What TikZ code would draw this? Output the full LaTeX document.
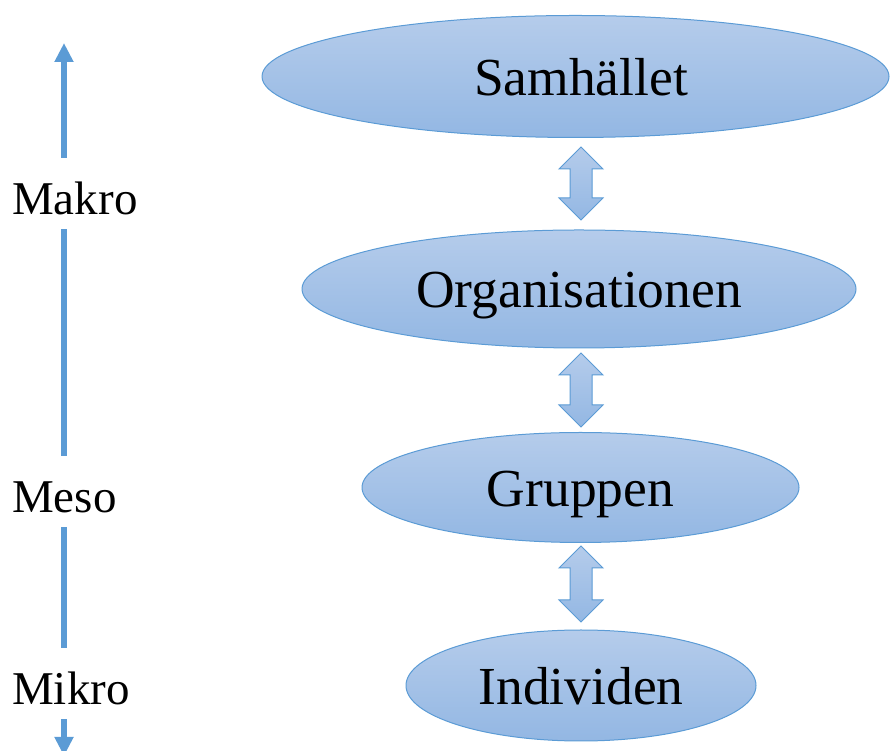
\documentclass[tikz,border=0pt]{standalone}
\usepackage{fontspec}
\setmainfont{Liberation Serif}
\usetikzlibrary{shapes.geometric,arrows.meta,calc}
\definecolor{edgeblue}{HTML}{5B9BD5}
\definecolor{topfill}{HTML}{B5CCEB}
\definecolor{botfill}{HTML}{93B7E3}
\tikzset{
  level/.style={ellipse, draw=edgeblue, line width=1pt, top color=topfill, bottom color=botfill,
    inner sep=0pt, text height=38pt, text depth=0pt, font=\fontsize{53.5}{60}\selectfont},
  dblarr/.style={draw=edgeblue, line width=1pt, top color=topfill, bottom color=botfill, line join=miter},
  axisline/.style={draw=edgeblue, line width=6pt,
    {Triangle[width=18pt,length=19pt]}-{Triangle[width=18pt,length=19pt]}},
  scalelabel/.style={anchor=base west, fill=white, inner xsep=0pt, inner ysep=0pt,
    text height=57pt, text depth=14pt, font=\fontsize{47}{54}\selectfont}
}
% double block arrow: x centre, top tip y, bottom tip y
\newcommand\levelarrow[3]{%
  \path[dblarr] (#1,#2) -- ++(22,-22) -- ++(-11,0) -- (#1+11,#3+22) -- ++(11,0)
    -- (#1,#3) -- ++(-22,22) -- ++(11,0) -- (#1-11,#2-22) -- ++(-11,0) -- cycle;}
\begin{document}
\begin{tikzpicture}[x=1pt,y=1pt]
\useasboundingbox (0,0) rectangle (890,751);
% levels
\node[level, minimum width=627pt, minimum height=122pt] (S) at (575.5,674.5) {\hspace*{11pt}Samhället};
\node[level, minimum width=554pt, minimum height=118pt] (O) at (579,462) {Organisationen};
\node[level, minimum width=437pt, minimum height=110pt] (G) at (580.5,263.5) {Gruppen};
\node[level, minimum width=350pt, minimum height=111pt] (I) at (581,65.5) {Individen};
% double arrows between levels
\levelarrow{581}{604}{531}
\levelarrow{581}{398}{324}
\levelarrow{581}{205}{129}
% scale axis
\coordinate (axbot) at (64,-5);
\coordinate (axtop) at (64,708);
\draw[axisline] (axbot) -- (axtop);
\node[scalelabel] (makro) at (12,536) {Makro};
\node[scalelabel] (meso) at (12,238) {Meso};
\node[scalelabel] (mikro) at (12,46) {Mikro};
\end{tikzpicture}
\end{document}
